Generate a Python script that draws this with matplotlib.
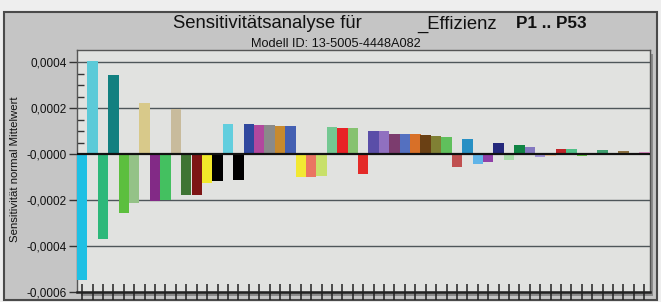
import matplotlib
matplotlib.use("Agg")
import matplotlib.pyplot as plt
from matplotlib.patches import Rectangle
from matplotlib.ticker import FixedLocator, FixedFormatter

# ---- data ----
values = [-0.000548, 0.000405, -0.000368, 0.000345, -0.000255, -0.000214, 0.000222,
          -0.000203, -0.000198, 0.000197, -0.000176, -0.000176, -0.000124, -0.000117,
          0.000133, -0.000112, 0.000130, 0.000127, 0.000126, 0.000123, 0.000121,
          -0.000100, -0.000100, -0.000096, 0.000120, 0.000116, 0.000114, -0.000086,
          0.000100, 0.000100, 0.000090, 0.000088, 0.000086, 0.000083, 0.000080,
          0.000073, -0.000054, 0.000065, -0.000042, -0.000034, 0.000049, -0.000027,
          0.000040, 0.000031, -0.000012, -0.000007, 0.000022, 0.000022, -0.000006,
          -0.000005, 0.000018, -0.000004, 0.000014, -0.000002, 0.000010]
colors = ["#1ec0e4", "#5ccad8", "#2db87a", "#128080", "#5cbf3e", "#94c287", "#d8c98a",
          "#822a86", "#44c060", "#c8bb9c", "#3f7434", "#7d1515", "#f2e82a", "#000000",
          "#62cede", "#000000", "#30489e", "#b2489e", "#8a8a8a", "#c88a2e", "#4460b2",
          "#f2e832", "#ea7462", "#c8e06a", "#74c892", "#e82226", "#86c270", "#e42a28",
          "#5a4ea8", "#9070c0", "#7c3c6e", "#5470c0", "#d87028", "#6a4014", "#808034",
          "#60c05c", "#c05050", "#2890c4", "#60b4e8", "#9040a8", "#24287c", "#a8dca8",
          "#108444", "#8478c0", "#a496d8", "#f0c8a0", "#c02428", "#50c088", "#64c444",
          "#901838", "#40a070", "#e8c494", "#8c7040", "#e8a8d8", "#e090c8"]
y_ticks = [0.0004, 0.0002, 0.0, -0.0002, -0.0004, -0.0006]
y_ticklabels = ["0,0004", "0,0002", "-0,0000", "-0,0002", "-0,0004", "-0,0006"]
y_minor = [0.00005, 0.0001, 0.00015, 0.00025, 0.0003, 0.00035]
title_main = "Sensitivitätsanalyse für"
title_mid = "_Effizienz"
title_bold = "P1 .. P53"
subtitle = "Modell ID: 13-5005-4448A082"
ylabel = "Sensitivität normal Mittelwert"

W, H = 661, 302
fig = plt.figure(figsize=(W / 100, H / 100), dpi=100)
fig.patch.set_facecolor("#eeeeee")

def fx(px):
    return px / W

def fy(py):
    return 1 - py / H

# outer frame
fig.patches.append(Rectangle((fx(4), fy(300)), fx(657) - fx(4), fy(12) - fy(300),
                             transform=fig.transFigure, facecolor="#c5c5c5",
                             edgecolor="#4a4a4a", linewidth=1.5, zorder=0))
# plot shadow
fig.patches.append(Rectangle((fx(81), fy(296)), fx(653) - fx(81), fy(54) - fy(296),
                             transform=fig.transFigure, facecolor="#8c8c8c",
                             edgecolor="none", zorder=0.5))

ax = fig.add_axes([fx(77), fy(292), fx(649.5) - fx(77), fy(50) - fy(292)])
ax.set_facecolor("#e1e2e0")
ax.set_zorder(1)

x = list(range(len(values)))
ax.bar(x, values, width=1.0, color=colors, edgecolor="none", zorder=3)

ax.set_xlim(-0.5, len(values) - 0.5)
ax.set_ylim(-0.0006, 0.000454)

for v in y_ticks:
    if v == 0:
        ax.axhline(0, color="#111111", lw=1.6, zorder=4)
    else:
        ax.axhline(v, color="#4e565a", lw=1.0, zorder=2)

ax.yaxis.set_major_locator(FixedLocator(y_ticks))
ax.yaxis.set_major_formatter(FixedFormatter(y_ticklabels))
ax.yaxis.set_minor_locator(FixedLocator(y_minor))
ax.tick_params(axis="y", which="major", direction="out", length=6, width=1,
               color="#333333", labelsize=8.5, pad=1.5, labelcolor="#111111")
ax.tick_params(axis="y", which="minor", direction="in", length=5, width=1, color="#333333")

ax.set_xticks(x)
ax.set_xticklabels([])
ax.tick_params(axis="x", which="major", direction="inout", length=11, width=1.1,
               color="#222222")

for s in ["top", "right", "left"]:
    ax.spines[s].set_color("#555555")
    ax.spines[s].set_linewidth(1.0)
ax.spines["bottom"].set_color("#222222")
ax.spines["bottom"].set_linewidth(1.8)

for lbl in ax.get_yticklabels():
    lbl.set_family(["Liberation Sans", "DejaVu Sans"])

fig.text(fx(15), fy(169), ylabel, rotation=90, ha="center", va="center",
         fontsize=8.2, family=["Liberation Sans", "DejaVu Sans"], color="#111111")

fig.text(fx(173), fy(24), title_main, ha="left", va="center", fontsize=13.3,
         family=["Liberation Sans", "DejaVu Sans"], color="#111111")
fig.text(fx(417), fy(24), title_mid, ha="left", va="center", fontsize=13.3,
         family=["Liberation Sans", "DejaVu Sans"], color="#111111")
fig.text(fx(516), fy(24), title_bold, ha="left", va="center", fontsize=12.3,
         fontweight="bold", family=["Liberation Sans", "DejaVu Sans"], color="#111111")
fig.text(fx(336), fy(44), subtitle, ha="center", va="center", fontsize=9.2,
         family=["Liberation Sans Narrow", "Liberation Sans", "DejaVu Sans"],
         color="#111111")

fig.savefig("out.png", dpi=100, facecolor=fig.get_facecolor())
